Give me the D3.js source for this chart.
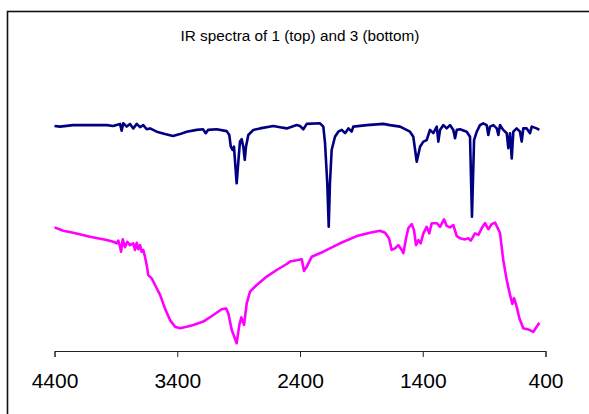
<!DOCTYPE html>
<html>
<head>
<meta charset="utf-8">
<script src="https://cdn.jsdelivr.net/npm/d3@7"></script>
<style>
  body { margin: 0; background: #fff; }
  svg { display: block; font-family: "Liberation Sans", Arial, sans-serif; }
</style>
</head>
<body>
<div id="chart"></div>
<script>
// wavenumbers (cm-1) and transmittance-like values
const wnTop = [4400, 4355, 4249, 3972, 3923, 3866, 3853, 3840, 3812, 3785, 3758, 3730, 3703, 3677, 3649, 3622,
  3567, 3500, 3435, 3378, 3323, 3242, 3190, 3168, 3149, 3079, 2997, 2976, 2964, 2948, 2938, 2916, 2899, 2889,
  2875, 2862, 2850, 2840, 2821, 2780, 2726, 2617, 2563, 2508, 2427, 2400, 2373, 2345, 2237, 2210, 2196, 2178,
  2166, 2156, 2142, 2115, 2088, 2060, 2033, 2006, 1979, 1966, 1857, 1721, 1667, 1585, 1504, 1477, 1449, 1422,
  1395, 1368, 1341, 1314, 1286, 1273, 1259, 1232, 1205, 1178, 1151, 1137, 1123, 1096, 1042, 1015, 999, 982,
  960, 934, 907, 879, 866, 852, 825, 797, 784, 771, 744, 716, 703, 689, 675, 662, 635, 608, 594, 581, 553,
  526, 512, 472, 450];
const tTop = [75.0, 74.8, 75.3, 75.3, 75.0, 75.7, 73.4, 75.9, 74.8, 75.7, 74.2, 75.7, 74.6, 75.3, 73.9, 74.2,
  73.1, 72.3, 71.7, 72.3, 73.1, 73.7, 73.9, 72.6, 73.7, 73.9, 73.3, 72.0, 68.1, 67.0, 68.1, 55.9, 64.8, 69.8,
  70.6, 68.1, 63.7, 68.1, 72.0, 73.7, 74.2, 75.0, 74.6, 74.2, 75.3, 75.0, 73.9, 75.7, 75.9, 74.8, 69.3, 56.0,
  41.4, 56.0, 67.0, 71.4, 73.1, 73.7, 72.6, 74.2, 73.1, 74.8, 75.3, 75.7, 75.3, 74.8, 73.1, 71.4, 63.1, 68.1,
  69.8, 70.3, 73.7, 72.6, 74.8, 69.8, 73.7, 75.3, 74.2, 75.3, 73.7, 70.9, 73.7, 73.9, 73.1, 71.4, 44.8, 70.3,
  73.1, 75.3, 75.9, 75.3, 72.0, 74.8, 75.3, 74.2, 72.0, 75.3, 73.7, 72.6, 67.6, 72.6, 64.2, 73.1, 74.2, 73.1,
  69.8, 74.2, 74.2, 72.6, 74.8, 74.2, 73.7];

const wnBottom = [4400, 4328, 4247, 4111, 3975, 3921, 3893, 3880, 3866, 3858, 3844, 3826, 3807, 3785, 3758,
  3744, 3730, 3717, 3703, 3690, 3677, 3663, 3649, 3636, 3608, 3581, 3540, 3500, 3459, 3418, 3378, 3323, 3269,
  3188, 3106, 3038, 3003, 2984, 2956, 2916, 2894, 2878, 2856, 2834, 2807, 2753, 2671, 2590, 2508, 2481, 2386,
  2367, 2345, 2305, 2210, 2074, 1938, 1830, 1748, 1707, 1675, 1653, 1626, 1599, 1571, 1558, 1536, 1518, 1490,
  1471, 1455, 1436, 1417, 1395, 1368, 1347, 1327, 1286, 1259, 1227, 1205, 1178, 1151, 1123, 1096, 1056, 1029,
  1009, 974, 947, 920, 893, 866, 838, 811, 771, 744, 716, 689, 670, 656, 635, 613, 581, 540, 499, 472, 450];
const tBottom = [41.2, 40.1, 39.4, 38.1, 37.0, 36.4, 35.9, 36.8, 34.8, 33.1, 37.2, 34.6, 36.4, 35.3, 35.9,
  33.7, 36.1, 33.9, 35.3, 33.1, 33.7, 31.4, 28.7, 25.3, 24.2, 22.0, 18.7, 14.2, 10.3, 8.1, 7.6, 8.1, 8.7,
  9.8, 12.0, 13.9, 14.2, 12.6, 7.0, 2.6, 8.7, 11.2, 8.7, 15.9, 19.8, 22.0, 24.8, 27.0, 29.0, 29.8, 30.6,
  26.7, 28.1, 31.4, 33.1, 35.9, 38.3, 39.4, 40.1, 39.4, 37.6, 33.7, 34.2, 35.3, 33.7, 32.6, 37.6, 40.9, 42.3,
  40.3, 35.3, 37.0, 35.9, 39.2, 41.4, 39.2, 42.6, 42.6, 41.4, 43.9, 41.7, 41.2, 42.0, 38.3, 37.6, 37.2, 37.6,
  36.8, 39.2, 38.7, 40.9, 42.6, 40.6, 42.3, 42.8, 39.4, 30.3, 23.7, 18.7, 15.7, 17.6, 14.8, 10.9, 7.6, 7.2,
  6.4, 8.1, 9.4];

const xTicks = [4400, 3400, 2400, 1400, 400];
const title = 'IR spectra of 1 (top) and 3 (bottom)';

const width = 589, height = 414;
const margin = { top: 51, right: 43.5, bottom: 63, left: 54.5 };

const svg = d3.select('#chart').append('svg')
  .attr('width', width)
  .attr('height', height);

// chart frame (runs off the right and bottom of the picture)
svg.append('rect')
  .attr('x', 7.5).attr('y', 11.5)
  .attr('width', 700).attr('height', 500)
  .attr('fill', 'none')
  .attr('stroke', '#111')
  .attr('stroke-width', 1.6);

const x = d3.scaleLinear()
  .domain([4400, 400])
  .range([margin.left, width - margin.right]);

const y = d3.scaleLinear()
  .domain([0, 100])
  .range([height - margin.bottom, margin.top]);

const line = d3.line()
  .x(d => x(d[0]))
  .y(d => y(d[1]));

svg.append('path')
  .datum(d3.zip(wnBottom, tBottom))
  .attr('fill', 'none')
  .attr('stroke', '#ff00ff')
  .attr('stroke-width', 2.6)
  .attr('stroke-linejoin', 'round')
  .attr('d', line);

svg.append('path')
  .datum(d3.zip(wnTop, tTop))
  .attr('fill', 'none')
  .attr('stroke', '#000080')
  .attr('stroke-width', 2.6)
  .attr('stroke-linejoin', 'round')
  .attr('d', line);

const xAxis = svg.append('g')
  .attr('transform', `translate(0,${y(0)})`)
  .call(d3.axisBottom(x).tickValues(xTicks).tickSizeOuter(0).tickSize(6).tickPadding(16).tickFormat(d3.format('d')));

xAxis.select('.domain').attr('stroke', '#222');
xAxis.selectAll('.tick line').attr('stroke', '#222');
xAxis.selectAll('text')
  .attr('fill', '#000')
  .style('font-size', '21px')
  .style('font-family', '"Liberation Sans", Arial, sans-serif');

svg.append('text')
  .attr('x', x(2400))
  .attr('y', 40.5)
  .attr('text-anchor', 'middle')
  .style('font-size', '15.3px')
  .attr('fill', '#000')
  .text(title);
</script>
</body>
</html>
